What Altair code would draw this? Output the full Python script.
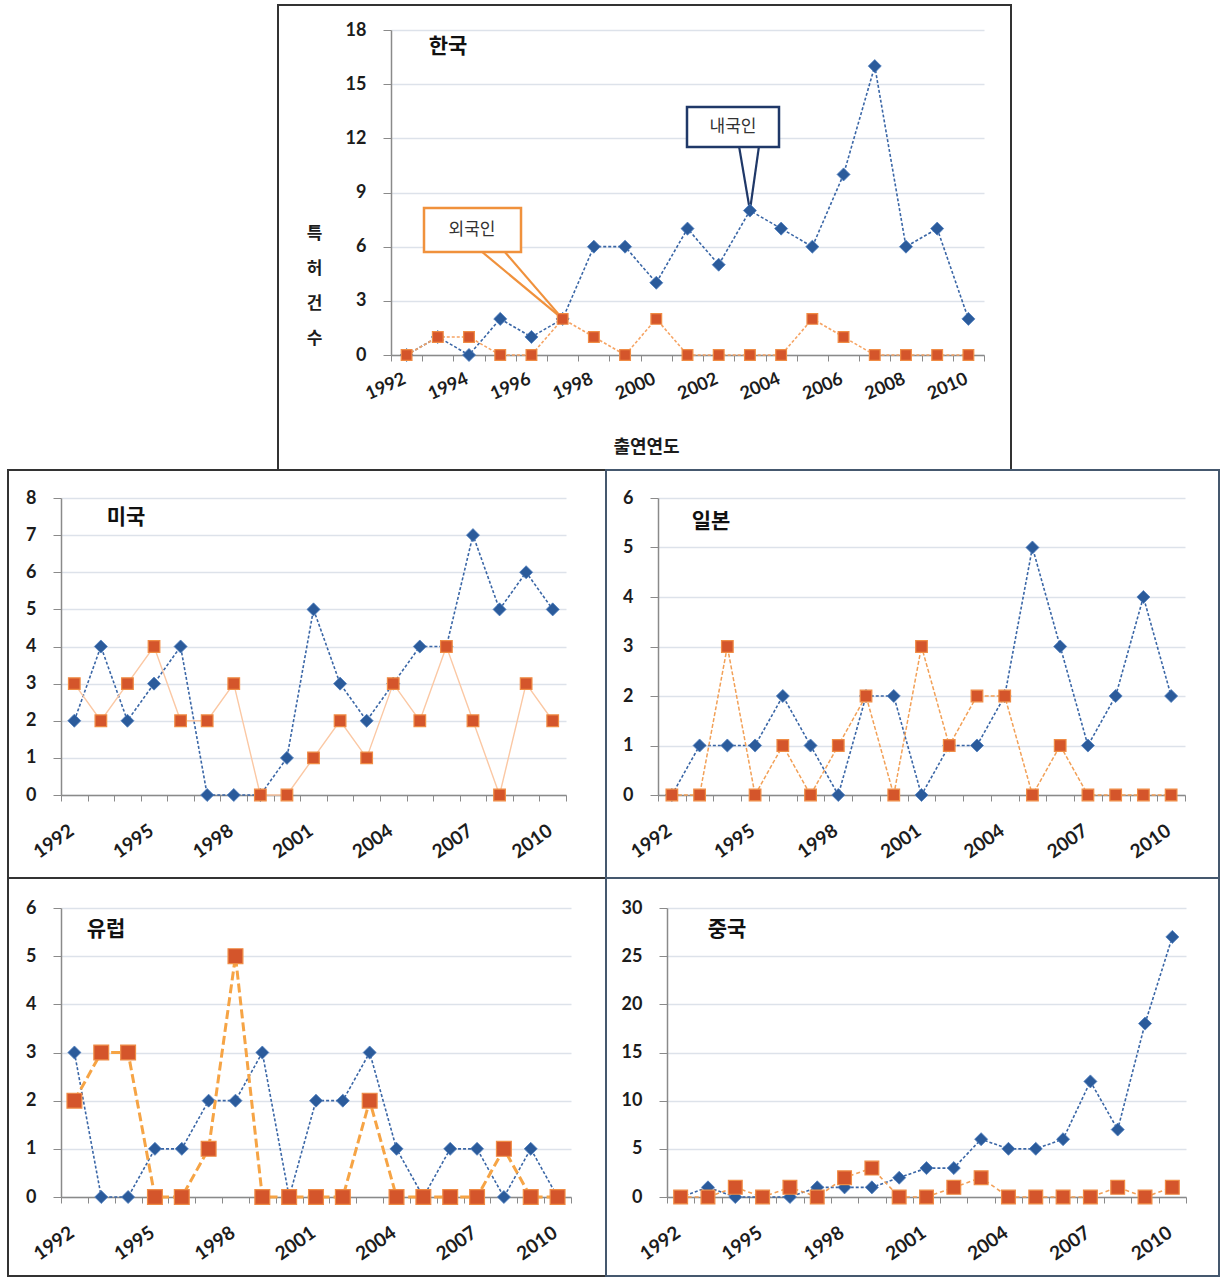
import altair as alt
import pandas as pd

# Application years (출연연도) shared by every panel
years = list(range(1992, 2011))

# Patent counts per year: 내국인 = domestic applicants, 외국인 = foreign applicants
kr_dom = [0, 1, 0, 2, 1, 2, 6, 6, 4, 7, 5, 8, 7, 6, 10, 16, 6, 7, 2]
kr_for = [0, 1, 1, 0, 0, 2, 1, 0, 2, 0, 0, 0, 0, 2, 1, 0, 0, 0, 0]

us_dom = [2, 4, 2, 3, 4, 0, 0, 0, 1, 5, 3, 2, 3, 4, 4, 7, 5, 6, 5]
us_for = [3, 2, 3, 4, 2, 2, 3, 0, 0, 1, 2, 1, 3, 2, 4, 2, 0, 3, 2]

jp_dom = [0, 1, 1, 1, 2, 1, 0, 2, 2, 0, 1, 1, 2, 5, 3, 1, 2, 4, 2]
jp_for = [0, 0, 3, 0, 1, 0, 1, 2, 0, 3, 1, 2, 2, 0, 1, 0, 0, 0, 0]

eu_dom = [3, 0, 0, 1, 1, 2, 2, 3, 0, 2, 2, 3, 1, 0, 1, 1, 0, 1, 0]
eu_for = [2, 3, 3, 0, 0, 1, 5, 0, 0, 0, 0, 2, 0, 0, 0, 0, 1, 0, 0]

cn_dom = [0, 1, 0, 0, 0, 1, 1, 1, 2, 3, 3, 6, 5, 5, 6, 12, 7, 18, 27]
cn_for = [0, 0, 1, 0, 1, 0, 2, 3, 0, 0, 1, 2, 0, 0, 0, 0, 1, 0, 1]

DOM = "내국인"
FOR = "외국인"

NUM_FONT = "Lato"
KR_FONT = "Noto Sans CJK KR"
BLUE = "#2b5b9b"
BLUE_EDGE = "#4f7fbf"
RED = "#d4552b"
RED_EDGE = "#f08c45"
NAVY = "#1f3868"
ORANGE_BOX = "#f0913c"
GAP = -4  # frames of neighbouring panels share one border line


def long_table(dom, fore):
    return pd.DataFrame({
        "year": years * 2,
        "value": dom + fore,
        "who": [DOM] * len(years) + [FOR] * len(years),
    })


def frame(x0, x1, y0, y1, color):
    return alt.Chart(pd.DataFrame({"k": [0]})).mark_rect(
        fillOpacity=0, stroke=color, strokeWidth=2
    ).encode(x=alt.value(x0), x2=alt.value(x1), y=alt.value(y0), y2=alt.value(y1))


def name_label(text, px, py):
    return alt.Chart(pd.DataFrame({"t": [text]})).mark_text(
        font=KR_FONT, fontSize=21, fontWeight="bold", color="#111111",
        align="center", baseline="middle"
    ).encode(text="t:N", x=alt.value(px), y=alt.value(py))


X_SCALE = alt.Scale(type="band", paddingInner=0, paddingOuter=0)


def panel(dom, fore, ymax, ystep, every, w, h, box, box_color, name, name_xy,
          for_line, dom_size, for_size, angle, xfont, xpad, xshift,
          x_title=None, y_title=None, extra=()):
    data = long_table(dom, fore)

    x_axis_kw = dict(
        labelExpr=f"datum.value % {every} == 0 ? datum.label : ''",
        labelAngle=angle, labelFont=NUM_FONT, labelFontSize=xfont,
        labelFontWeight="bold", labelColor="#1c1c1c", labelOverlap=False,
        labelBound=False, labelPadding=xpad, labelOffset=xshift,
        tickBand="extent", tickSize=6, tickColor="#8a8a8a",
        domainColor="#8a8a8a", domainWidth=1.5, grid=False,
    )
    if x_title:
        x_axis_kw.update(title=x_title[0], titleFont=KR_FONT, titleFontSize=18,
                         titleFontWeight="bold", titleColor="#1c1c1c",
                         titleX=x_title[1], titleY=x_title[2],
                         titleBaseline="middle")
    else:
        x_axis_kw["title"] = None

    y_axis_kw = dict(
        values=list(range(0, ymax + 1, ystep)), labelFont=NUM_FONT,
        labelFontSize=18, labelFontWeight="bold", labelColor="#1c1c1c",
        labelPadding=17, tickSize=8, tickColor="#8a8a8a",
        domainColor="#8a8a8a", domainWidth=1.5, gridColor="#dde2ea",
        gridWidth=1.3,
    )
    if y_title:
        y_axis_kw.update(title=y_title[0], titleAngle=0, titleX=y_title[1],
                         titleY=y_title[2], titleAlign="center",
                         titleBaseline="middle", titleLineHeight=35,
                         titleFont=KR_FONT, titleFontSize=17,
                         titleFontWeight="bold", titleColor="#1c1c1c")
    else:
        y_axis_kw["title"] = None

    base = alt.Chart(data).encode(
        x=alt.X("year:O", scale=X_SCALE, axis=alt.Axis(**x_axis_kw)),
        y=alt.Y("value:Q", scale=alt.Scale(domain=[0, ymax], nice=False),
                axis=alt.Axis(**y_axis_kw)),
        order="year:O",
    )
    is_dom = alt.datum.who == DOM
    is_for = alt.datum.who == FOR

    dom_line = base.transform_filter(is_dom).mark_line(
        color="#3a66a6", strokeWidth=1.6, strokeDash=[3, 2])
    dom_pts = base.transform_filter(is_dom).mark_point(
        shape="diamond", filled=True, size=dom_size, color=BLUE,
        stroke=BLUE_EDGE, strokeWidth=0.8, opacity=1)
    for_line_mark = base.transform_filter(is_for).mark_line(**for_line)
    for_pts = base.transform_filter(is_for).mark_point(
        shape="square", filled=True, size=for_size, color=RED,
        stroke=RED_EDGE, strokeWidth=1.2, opacity=1)

    layers = [frame(*box, box_color)]
    layers += list(extra)
    layers += [dom_line, dom_pts, for_line_mark, for_pts, name_label(name, *name_xy)]
    return alt.layer(*layers).properties(width=w, height=h)


# ---- 한국 (top) with callouts ----
kr_data = long_table(kr_dom, kr_for)
kr_x = alt.X("year:O", scale=X_SCALE)
kr_y = alt.Y("value:Q", scale=alt.Scale(domain=[0, 18], nice=False))


def pointer(who, year, bx, by, color):
    src = alt.Chart(kr_data).transform_filter(
        (alt.datum.who == who) & (alt.datum.year == year))
    return [
        src.mark_rule(color=color, strokeWidth=2.2).encode(
            x=kr_x, y=kr_y, x2=alt.value(b), y2=alt.value(by))
        for b in bx
    ]


def callout_box(text, x0, x1, y0, y1, color, tx, ty):
    one = alt.Chart(pd.DataFrame({"t": [text]}))
    return [
        one.mark_rect(fill="white", stroke=color, strokeWidth=2.5).encode(
            x=alt.value(x0), x2=alt.value(x1), y=alt.value(y0), y2=alt.value(y1)),
        one.mark_text(font=KR_FONT, fontSize=17, color="#333333",
                      align="center", baseline="middle").encode(
            text="t:N", x=alt.value(tx), y=alt.value(ty)),
    ]


kr_extra = []
kr_extra += pointer(DOM, 2003, [348, 368], 116, NAVY)
kr_extra += pointer(FOR, 1997, [90, 113], 221, ORANGE_BOX)
kr_extra += callout_box(DOM, 296, 388, 77, 117, NAVY, 342, 97)
kr_extra += callout_box(FOR, 33, 130, 178, 222, ORANGE_BOX, 81, 200)

DIAMOND = 170

korea = panel(
    kr_dom, kr_for, 18, 3, 2, 593, 325, (-113, 620, -25, 440), "#333333",
    "한국", (57, 17),
    dict(color="#f6a464", strokeWidth=1.6, strokeDash=[3, 2]),
    DIAMOND, 115, -24, 18, 17, -2,
    x_title=("출연연도", 255, 92),
    y_title=(["특", "허", "건", "수"], -77, 203),
    extra=kr_extra,
)

# empty cell to the left of the top panel so that it sits right of the left margin
left_gap = alt.Chart(pd.DataFrame({"k": [0]})).mark_rect(opacity=0).encode(
    x=alt.value(-53), x2=alt.value(218), y=alt.value(0), y2=alt.value(10)
).properties(width=218, height=10)

usa = panel(
    us_dom, us_for, 8, 1, 3, 505, 297, (-53, 545, -28, 380), "#333333",
    "미국", (65, 20),
    dict(color="#fbc8a4", strokeWidth=1.4),
    DIAMOND, 135, -35, 19, 20, -8,
)

japan = panel(
    jp_dom, jp_for, 6, 1, 3, 527, 297, (-52, 561, -28, 380), "#45586e",
    "일본", (53, 24),
    dict(color="#f2a057", strokeWidth=1.5, strokeDash=[4, 2]),
    DIAMOND, 135, -35, 19, 20, -8,
)

europe = panel(
    eu_dom, eu_for, 6, 1, 3, 510, 289, (-53, 545, -30, 368), "#333333",
    "유럽", (45, 22),
    dict(color="#f6a445", strokeWidth=3, strokeDash=[9, 4]),
    DIAMOND, 220, -35, 19, 20, -8,
)

china = panel(
    cn_dom, cn_for, 30, 5, 3, 519, 289, (-61, 552, -30, 368), "#45586e",
    "중국", (60, 22),
    dict(color="#f2a057", strokeWidth=1.6, strokeDash=[4, 3]),
    DIAMOND, 190, -35, 19, 20, -8,
)

row0 = alt.hconcat(left_gap, korea, spacing=GAP)
row1 = alt.hconcat(usa, japan, spacing=GAP)
row2 = alt.hconcat(europe, china, spacing=GAP)

chart = alt.vconcat(row0, row1, row2, spacing=GAP).properties(
    padding={"left": 6, "top": 3, "right": 0, "bottom": 0},
    background="white",
).configure_view(stroke="transparent").resolve_scale(x="independent", y="independent")

chart.save("out.html", embed_options={"renderer": "svg", "actions": False})
